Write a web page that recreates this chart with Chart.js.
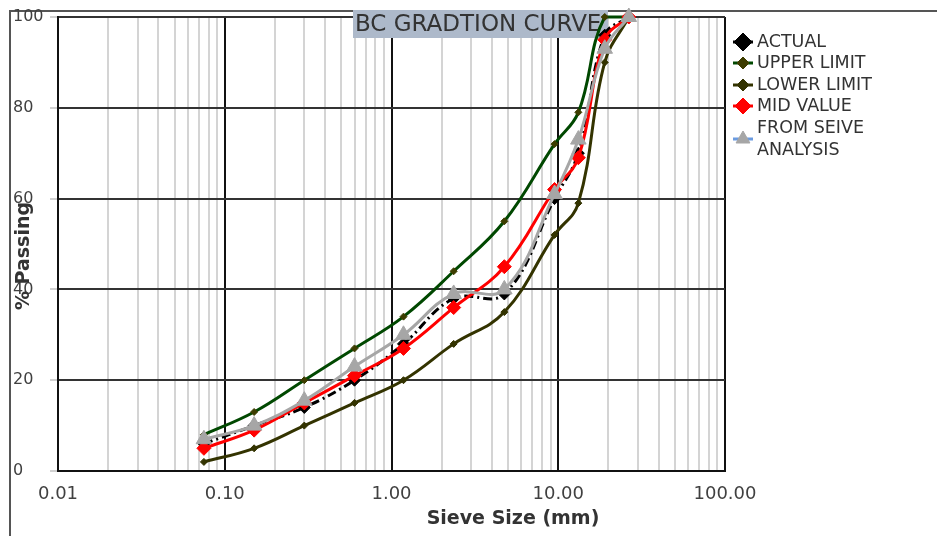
<!DOCTYPE html>
<html><head><meta charset="utf-8">
<script src="https://cdn.jsdelivr.net/npm/chart.js@4.4.0/dist/chart.umd.min.js"></script>
<style>
html,body{margin:0;padding:0;background:#fff;}
#wrap{position:relative;width:937px;height:536px;overflow:hidden;}
#frame{position:absolute;left:9px;top:10px;width:940px;height:540px;border-left:2px solid #555;border-top:2px solid #555;box-sizing:border-box;}
canvas{position:absolute;left:0;top:0;}
</style></head><body>
<div id="wrap"><div id="frame"></div><canvas id="c" width="937" height="536"></canvas></div>
<script>
// ---- data ----
const sieveSizes = [0.075, 0.15, 0.3, 0.6, 1.18, 2.36, 4.75, 9.5, 13.2, 19, 26.5];
const actual     = [6, 10, 14, 20, 28, 38, 39, 60, 70, 96, 100];
const upperLimit = [8, 13, 20, 27, 34, 44, 55, 72, 79, 100, 100];
const lowerLimit = [2, 5, 10, 15, 20, 28, 35, 52, 59, 90, 100];
const midValue   = [5, 9, 15, 21, 27, 36, 45, 62, 69, 95, 100];
const fromSieve  = [7, 10, 15.5, 23, 30, 39, 40, 61, 73, 93, 100];
const xTickValues = [0.01,0.02,0.03,0.04,0.05,0.06,0.07,0.08,0.09,
                     0.1,0.2,0.3,0.4,0.5,0.6,0.7,0.8,0.9,
                     1,2,3,4,5,6,7,8,9,
                     10,20,30,40,50,60,70,80,90,100];
const yTickStep = 20;
const chartTitle = 'BC GRADTION CURVE';
const xTitle = 'Sieve Size (mm)';
const yTitle = '% Passing';

const pts = arr => sieveSizes.map((s, i) => ({x: s, y: arr[i]}));
const isMajor = v => Math.abs(Math.log10(v) - Math.round(Math.log10(v))) < 1e-6;

const datasets = [
  {label:'ACTUAL', data:pts(actual), borderColor:'#000000', backgroundColor:'#000000',
   borderWidth:3, borderDash:[9,4,2,4], pointStyle:'rectRot', pointRadius:6,
   pointBackgroundColor:'#000', pointBorderColor:'#000', order:2, legendRadius:9, legendLine:'#000'},
  {label:'UPPER LIMIT', data:pts(upperLimit), borderColor:'#004800', backgroundColor:'#3d3d00',
   borderWidth:3, pointStyle:'rectRot', pointRadius:3.5,
   pointBackgroundColor:'#3d3d00', pointBorderColor:'#3d3d00', order:3, legendRadius:6, legendLine:'#004800'},
  {label:'LOWER LIMIT', data:pts(lowerLimit), borderColor:'#333300', backgroundColor:'#333300',
   borderWidth:3, pointStyle:'rectRot', pointRadius:3.5,
   pointBackgroundColor:'#333300', pointBorderColor:'#333300', order:4, legendRadius:6, legendLine:'#333300'},
  {label:'MID VALUE', data:pts(midValue), borderColor:'#ff0000', backgroundColor:'#ff0000',
   borderWidth:3, pointStyle:'rectRot', pointRadius:7,
   pointBackgroundColor:'#ff0000', pointBorderColor:'#ff0000', order:1, legendRadius:8, legendLine:'#ff0000'},
  {label:['FROM SEIVE','ANALYSIS'], data:pts(fromSieve), borderColor:'#a6a6a6', backgroundColor:'#a6a6a6',
   borderWidth:3, pointStyle:'triangle', pointRadius:9,
   pointBackgroundColor:'#a6a6a6', pointBorderColor:'#a6a6a6', order:0, legendRadius:8, legendLine:'#6b9be0'}
];
datasets.forEach(d => { d.tension = 0.4; d.fill = false; d.clip = false; d.pointBorderWidth = 1; });

const FONT = '"DejaVu Sans", Verdana, sans-serif';

const decor = {
  id: 'decor',
  beforeDatasetsDraw(chart) {
    const ctx = chart.ctx;
    ctx.save();
    ctx.fillStyle = '#adb9ca';
    ctx.fillRect(353, 10, 255, 28);
    ctx.fillStyle = '#333333';
    ctx.font = '23px ' + FONT;
    ctx.textBaseline = 'middle';
    ctx.textAlign = 'left';
    ctx.fillText(chartTitle, 355, 25);
    ctx.restore();
  },
  afterDraw(chart) {
    const ctx = chart.ctx;
    ctx.save();
    // axis titles
    ctx.fillStyle = '#333333';
    ctx.font = 'bold 19px ' + FONT;
    ctx.textAlign = 'center';
    ctx.textBaseline = 'middle';
    ctx.fillText(xTitle, 513, 519);
    ctx.save();
    ctx.translate(24, 256);
    ctx.rotate(-Math.PI / 2);
    ctx.fillText(yTitle, 0, 0);
    ctx.restore();
    // legend
    const rows = [42, 63, 85, 106, 139];
    ctx.font = '17.5px ' + FONT;
    ctx.textAlign = 'left';
    chart.data.datasets.forEach((d, i) => {
      const y = rows[i];
      ctx.strokeStyle = d.legendLine;
      ctx.lineWidth = 3;
      ctx.setLineDash([]);
      ctx.beginPath(); ctx.moveTo(733, y); ctx.lineTo(753, y); ctx.stroke();
      ctx.fillStyle = d.pointBackgroundColor;
      ctx.strokeStyle = d.pointBorderColor;
      ctx.lineWidth = 1;
      Chart.helpers.drawPoint(ctx, {pointStyle: d.pointStyle, radius: d.legendRadius, rotation: 0, borderWidth: 1}, 743, y);
      ctx.fillStyle = '#333333';
      const lines = Array.isArray(d.label) ? d.label : [d.label];
      if (lines.length === 1) ctx.fillText(lines[0], 757, y);
      else { ctx.fillText(lines[0], 757, y - 11); ctx.fillText(lines[1], 757, y + 11); }
    });
    ctx.restore();
  }
};

new Chart(document.getElementById('c'), {
  type: 'line',
  data: { datasets },
  options: {
    responsive: false,
    animation: false,
    layout: { padding: { left: 13, top: 17, right: 212, bottom: 0 } },
    plugins: { legend: { display: false }, title: { display: false }, tooltip: { enabled: false } },
    scales: {
      x: {
        type: 'logarithmic', min: 0.01, max: 100,
        afterBuildTicks: s => { s.ticks = xTickValues.map(v => ({ value: v })); },
        afterFit: s => { s.height = 65; },
        ticks: {
          autoSkip: false, maxRotation: 0, minRotation: 0, padding: 13,
          color: '#404040', font: { family: FONT, size: 18 },
          callback: v => isMajor(v) ? Number(v).toFixed(2) : ''
        },
        grid: {
          drawTicks: false,
          color: c => (c.tick && isMajor(c.tick.value)) ? '#111111' : '#d4d4d4',
          lineWidth: 2
        },
        border: { display: true, color: '#111111', width: 2 }
      },
      y: {
        min: 0, max: 100,
        afterFit: s => { s.width = 45; },
        ticks: { stepSize: yTickStep, crossAlign: 'far', color: '#404040', font: { family: FONT, size: 16 } },
        grid: { color: '#333333', lineWidth: 2, tickColor: '#d0d0d0', tickLength: 8 },
        border: { display: true, color: '#111111', width: 2 }
      }
    }
  },
  plugins: [decor]
});
</script>
</body></html>
